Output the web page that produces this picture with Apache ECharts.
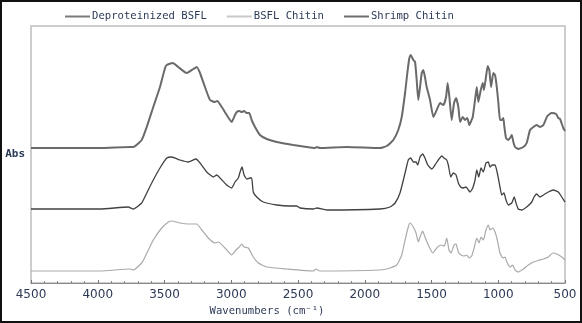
<!DOCTYPE html>
<html>
<head>
<meta charset="utf-8">
<script src="https://cdn.jsdelivr.net/npm/echarts@6/dist/echarts.min.js"></script>
<style>
  html, body { margin: 0; padding: 0; background: #fff; }
  #wrap { position: relative; width: 582px; height: 323px; }
  #chart { position: absolute; left: 0; top: 0; width: 582px; height: 323px; }
  #frame { position: absolute; left: 0; top: 0; width: 582px; height: 323px;
           box-sizing: border-box; border: 2px solid #111; pointer-events: none; }
</style>
</head>
<body>
<div id="wrap"><div id="chart"></div><div id="frame"></div></div>
<script>
// FTIR spectra (offset for clarity): wavenumber (cm-1) and absorbance
const shrimpWave = [4500,4200,3983,3758,3734,3671,3633,3584,3534,3496,3483,3439,3397,3334,3284,3259,3234,3197,3159,3122,3104,3071,3034,2997,2972,2959,2940,2922,2904,2884,2865,2847,2822,2785,2734,2659,2535,2435,2373,2360,2335,2135,1886,1835,1786,1749,1723,1698,1681,1666,1656,1636,1623,1611,1599,1586,1573,1561,1549,1536,1511,1486,1461,1436,1411,1391,1379,1366,1349,1331,1316,1299,1286,1266,1249,1232,1217,1206,1191,1174,1161,1149,1131,1116,1107,1092,1079,1067,1054,1037,1024,1011,999,987,974,962,954,942,924,912,899,887,874,850,812,787,762,737,712,687,662,632,600,567,550,537,513,500];
const shrimpAbs  = [1.35,1.35,1.35,1.36,1.36,1.43,1.56,1.76,1.96,2.15,2.18,2.20,2.16,2.10,2.14,2.16,2.10,1.96,1.83,1.81,1.82,1.76,1.68,1.61,1.68,1.71,1.72,1.71,1.72,1.70,1.70,1.63,1.56,1.48,1.44,1.41,1.38,1.36,1.35,1.36,1.35,1.36,1.35,1.37,1.43,1.53,1.66,1.90,2.10,2.25,2.28,2.23,2.21,2.03,1.83,1.96,2.10,2.13,2.06,1.96,1.83,1.66,1.73,1.80,1.78,1.86,2.00,1.86,1.63,1.80,1.85,1.76,1.61,1.66,1.63,1.65,1.58,1.61,1.66,1.83,1.96,1.81,1.93,2.00,1.93,2.06,2.17,2.13,1.96,2.10,2.08,1.96,1.80,1.63,1.63,1.65,1.56,1.45,1.43,1.45,1.48,1.41,1.36,1.34,1.36,1.40,1.53,1.56,1.58,1.56,1.58,1.67,1.70,1.69,1.65,1.64,1.55,1.52];

const deprotWave = [4500,3983,3771,3734,3671,3633,3584,3534,3483,3446,3384,3322,3264,3234,3184,3134,3109,3084,3034,2997,2972,2947,2934,2919,2904,2884,2859,2847,2835,2809,2760,2659,2560,2510,2485,2385,2360,2285,1886,1811,1773,1736,1698,1674,1656,1636,1616,1603,1586,1566,1549,1528,1498,1474,1449,1423,1406,1386,1374,1356,1337,1316,1299,1281,1262,1241,1224,1211,1191,1174,1161,1146,1129,1112,1092,1074,1062,1044,1024,1007,987,974,957,942,924,899,880,867,850,824,787,749,732,712,687,662,625,587,550,524,500];
const deprotAbs  = [0.74,0.74,0.76,0.74,0.80,0.90,1.03,1.15,1.25,1.26,1.23,1.21,1.24,1.20,1.11,1.06,1.08,1.05,0.98,0.95,1.01,1.05,1.11,1.16,1.08,1.04,1.05,1.05,0.91,0.86,0.81,0.78,0.77,0.77,0.75,0.74,0.75,0.73,0.74,0.76,0.80,0.90,1.10,1.23,1.25,1.21,1.21,1.18,1.26,1.29,1.25,1.18,1.14,1.18,1.23,1.27,1.25,1.23,1.18,1.06,1.10,1.08,1.00,0.96,0.95,0.96,0.93,0.91,0.95,1.03,1.13,1.06,1.15,1.11,1.20,1.21,1.16,1.18,1.18,1.10,0.96,0.88,0.90,0.83,0.78,0.80,0.86,0.80,0.74,0.73,0.76,0.81,0.86,0.89,0.86,0.88,0.91,0.93,0.91,0.86,0.81];

const bsflWave = [4500,3983,3758,3734,3671,3646,3584,3521,3471,3446,3384,3322,3259,3221,3172,3122,3097,3047,2997,2964,2940,2922,2904,2872,2835,2797,2734,2585,2385,2365,2335,1886,1811,1761,1723,1698,1674,1661,1636,1616,1599,1581,1566,1549,1524,1491,1461,1431,1404,1386,1369,1354,1331,1316,1299,1279,1256,1236,1217,1199,1179,1161,1144,1129,1112,1092,1074,1062,1041,1024,1007,987,966,949,932,912,892,874,850,812,775,737,692,662,625,592,562,524,500];
const bsflAbs  = [0.12,0.12,0.14,0.13,0.20,0.26,0.43,0.55,0.61,0.62,0.60,0.59,0.59,0.53,0.45,0.40,0.41,0.35,0.28,0.33,0.36,0.39,0.36,0.35,0.26,0.20,0.16,0.14,0.12,0.14,0.12,0.13,0.15,0.18,0.28,0.43,0.56,0.60,0.56,0.50,0.41,0.48,0.52,0.46,0.38,0.30,0.35,0.38,0.37,0.45,0.33,0.30,0.38,0.39,0.31,0.28,0.27,0.28,0.25,0.27,0.36,0.45,0.40,0.46,0.43,0.53,0.58,0.53,0.55,0.51,0.43,0.30,0.25,0.26,0.20,0.16,0.18,0.13,0.11,0.14,0.18,0.21,0.23,0.24,0.26,0.30,0.29,0.26,0.23];

const xTicks = { min: 500, max: 4500, step: 500 };

const zip = (xs, ys) => xs.map((x, i) => [x, ys[i]]);

const labelColor = '#2c3a56';
const mono = '"DejaVu Sans Mono", "Liberation Mono", monospace';

const chart = echarts.init(document.getElementById('chart'), null, { renderer: 'canvas' });
chart.setOption({
  animation: false,
  backgroundColor: '#fff',
  legend: {
    left: 60,
    top: 6,
    icon: 'rect',
    itemWidth: 25,
    itemHeight: 2,
    itemGap: 20,
    textStyle: { fontFamily: mono, fontSize: 10.6, color: labelColor, padding: [0, 0, 0, -3] },
    data: ['Deproteinized BSFL', 'BSFL Chitin', 'Shrimp Chitin']
  },
  grid: {
    left: 31, right: 17, top: 26, bottom: 40,
    show: true, borderColor: '#bdbdbd', borderWidth: 1.5
  },
  xAxis: {
    type: 'value',
    inverse: true,
    min: xTicks.min,
    max: xTicks.max,
    interval: xTicks.step,
    name: 'Wavenumbers (cm\u207B\u00B9)',
    nameLocation: 'middle',
    nameGap: 20,
    nameTextStyle: { fontFamily: mono, fontSize: 10.6, color: labelColor, padding: [0, 62, 0, 0] },
    axisLine: { show: true, lineStyle: { color: '#8c8c8c', width: 1 } },
    axisTick: { show: true, inside: true, length: 3, lineStyle: { color: '#777' } },
    minorTick: { show: true, splitNumber: 5, length: 2, lineStyle: { color: '#888' } },
    axisLabel: {
      margin: 6, fontFamily: '"DejaVu Sans", sans-serif', fontSize: 12, color: labelColor,
      formatter: v => String(v)
    },
    splitLine: { show: false }
  },
  yAxis: {
    type: 'value',
    min: 0,
    max: 2.57,
    name: 'Abs',
    nameLocation: 'middle',
    nameRotate: 0,
    nameGap: 6,
    nameTextStyle: { fontFamily: mono, fontSize: 11, fontWeight: 'bold', color: labelColor },
    axisLine: { show: false },
    axisTick: { show: false },
    axisLabel: { show: false },
    splitLine: { show: false }
  },
  series: [
    {
      name: 'Deproteinized BSFL', type: 'line', showSymbol: false, smooth: 0.15,
      lineStyle: { color: '#414141', width: 1.3 }, itemStyle: { color: '#7a7a7a' },
      data: zip(deprotWave, deprotAbs), z: 3
    },
    {
      name: 'BSFL Chitin', type: 'line', showSymbol: false, smooth: 0.15,
      lineStyle: { color: '#a9a9a9', width: 1.2 }, itemStyle: { color: '#c9c9c9' },
      data: zip(bsflWave, bsflAbs), z: 2
    },
    {
      name: 'Shrimp Chitin', type: 'line', showSymbol: false, smooth: 0.15,
      lineStyle: { color: '#6a6a6a', width: 2 }, itemStyle: { color: '#6e6e6e' },
      data: zip(shrimpWave, shrimpAbs), z: 4
    }
  ]
});
</script>
</body>
</html>
